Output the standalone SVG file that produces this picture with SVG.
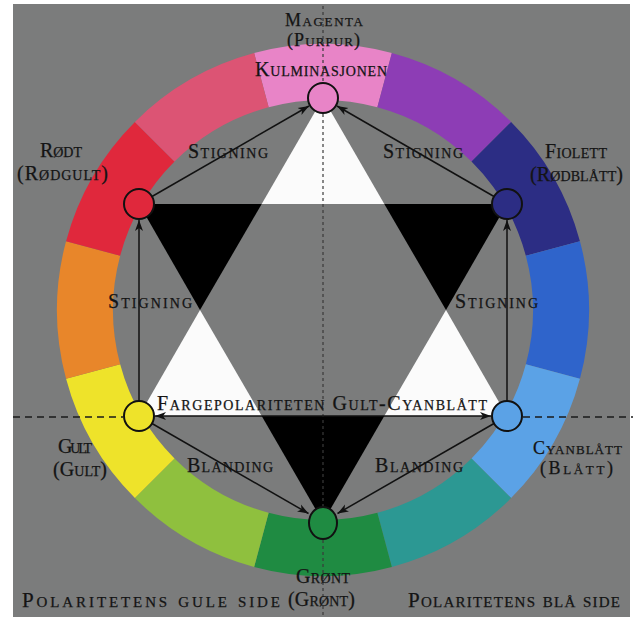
<svg xmlns="http://www.w3.org/2000/svg" width="633" height="619" viewBox="0 0 633 619">
  <defs>
    <marker id="arr" markerUnits="userSpaceOnUse" markerWidth="12" markerHeight="10" refX="11" refY="4" orient="auto-start-reverse" viewBox="0 0 12 8">
      <path d="M0,0 L11,4 L0,8 L3,4 Z" fill="#111"/>
    </marker>
    <style>
      .lbl { font-family: "Liberation Serif", "DejaVu Serif", serif; font-variant: small-caps; font-size: 20px; fill: #141414; stroke: #141414; stroke-width: 0.25; }
      .sm { font-size: 18px; }
      .big { font-size: 21px; }
      .node { stroke: #111; stroke-width: 2; }
      .conn { stroke: #111; stroke-width: 1.5; fill: none; }
      .seg { stroke: none; }
    </style>
  </defs>

  <rect x="0" y="0" width="633" height="619" fill="#ffffff"/>
  <rect x="13" y="4" width="617" height="613" fill="#7b7c7c"/>

  <g id="ring">
    <path class="seg" fill="#e884c7" d="M254.15,53.06 A266,266 0 0 1 391.85,53.06 L377.35,107.16 A210,210 0 0 0 268.65,107.16 Z"/>
    <path class="seg" fill="#8d3db5" d="M391.85,53.06 A266,266 0 0 1 511.09,121.91 L471.49,161.51 A210,210 0 0 0 377.35,107.16 Z"/>
    <path class="seg" fill="#2c2d84" d="M511.09,121.91 A266,266 0 0 1 579.94,241.15 L525.84,255.65 A210,210 0 0 0 471.49,161.51 Z"/>
    <path class="seg" fill="#2f64cb" d="M579.94,241.15 A266,266 0 0 1 579.94,378.85 L525.84,364.35 A210,210 0 0 0 525.84,255.65 Z"/>
    <path class="seg" fill="#5ba2e6" d="M579.94,378.85 A266,266 0 0 1 511.09,498.09 L471.49,458.49 A210,210 0 0 0 525.84,364.35 Z"/>
    <path class="seg" fill="#2c9893" d="M511.09,498.09 A266,266 0 0 1 391.85,566.94 L377.35,512.84 A210,210 0 0 0 471.49,458.49 Z"/>
    <path class="seg" fill="#1f8b42" d="M391.85,566.94 A266,266 0 0 1 254.15,566.94 L268.65,512.84 A210,210 0 0 0 377.35,512.84 Z"/>
    <path class="seg" fill="#8fc03e" d="M254.15,566.94 A266,266 0 0 1 134.91,498.09 L174.51,458.49 A210,210 0 0 0 268.65,512.84 Z"/>
    <path class="seg" fill="#eee32a" d="M134.91,498.09 A266,266 0 0 1 66.06,378.85 L120.16,364.35 A210,210 0 0 0 174.51,458.49 Z"/>
    <path class="seg" fill="#e8862a" d="M66.06,378.85 A266,266 0 0 1 66.06,241.15 L120.16,255.65 A210,210 0 0 0 120.16,364.35 Z"/>
    <path class="seg" fill="#e0283c" d="M66.06,241.15 A266,266 0 0 1 134.91,121.91 L174.51,161.51 A210,210 0 0 0 120.16,255.65 Z"/>
    <path class="seg" fill="#dc5474" d="M134.91,121.91 A266,266 0 0 1 254.15,53.06 L268.65,107.16 A210,210 0 0 0 174.51,161.51 Z"/>
  </g>

  <g id="hexagram">
    <polygon fill="#fbfbfb" points="323,98 261.7,204 384.3,204"/>
    <polygon fill="#fbfbfb" points="200,310 139,416 261.7,416"/>
    <polygon fill="#fbfbfb" points="446,310 384.3,416 507,416"/>
    <polygon fill="#000000" points="139,204 261.7,204 200,310"/>
    <polygon fill="#000000" points="384.3,204 507,204 446,310"/>
    <polygon fill="#000000" points="261.7,416 384.3,416 323,522"/>
  </g>

  <g id="axes">
    <line x1="323" y1="6" x2="323" y2="617" stroke="#3a3a3a" stroke-width="1.2" stroke-dasharray="3 3"/>
    <line x1="13" y1="417" x2="123" y2="417" stroke="#1a1a1a" stroke-width="1.5" stroke-dasharray="7 5"/>
    <line x1="523" y1="417" x2="633" y2="417" stroke="#1a1a1a" stroke-width="1.5" stroke-dasharray="7 5"/>
  </g>

  <g id="connectors">
    <line class="conn" x1="152" y1="196.5" x2="309" y2="106" marker-end="url(#arr)"/>
    <line class="conn" x1="494" y1="196.5" x2="337" y2="106" marker-end="url(#arr)"/>
    <line class="conn" x1="139" y1="401" x2="139" y2="220" marker-end="url(#arr)"/>
    <line class="conn" x1="507" y1="401" x2="507" y2="220" marker-end="url(#arr)"/>
    <line class="conn" x1="155" y1="416" x2="491" y2="416" marker-start="url(#arr)" marker-end="url(#arr)"/>
    <line class="conn" x1="152" y1="423.5" x2="308.5" y2="513.5" marker-end="url(#arr)"/>
    <line class="conn" x1="494" y1="423.5" x2="337.5" y2="513.5" marker-end="url(#arr)"/>
  </g>

  <g id="node-magenta">
    <circle class="node" cx="323" cy="98" r="15" fill="#e884c7"/>
    <text class="lbl sm" x="285" y="26" textLength="78" lengthAdjust="spacing">Magenta</text>
    <text class="lbl sm" x="287" y="46" textLength="73" lengthAdjust="spacing">(Purpur)</text>
    <text class="lbl" x="255" y="76" textLength="132" lengthAdjust="spacing">Kulminasjonen</text>
  </g>

  <g id="node-rodt">
    <circle class="node" cx="139" cy="204" r="15" fill="#e0283c"/>
    <text class="lbl" x="40" y="157" textLength="42" lengthAdjust="spacing">Rødt</text>
    <text class="lbl" x="17" y="180" textLength="91" lengthAdjust="spacing">(Rødgult)</text>
  </g>

  <g id="node-fiolett">
    <circle class="node" cx="507" cy="204" r="15" fill="#2c2d84"/>
    <text class="lbl" x="545" y="158" textLength="62" lengthAdjust="spacing">Fiolett</text>
    <text class="lbl" x="530" y="181" textLength="93" lengthAdjust="spacing">(Rødblått)</text>
  </g>

  <g id="node-gult">
    <circle class="node" cx="139" cy="416" r="15" fill="#eee32a"/>
    <text class="lbl" x="58" y="453" textLength="34" lengthAdjust="spacing">Gult</text>
    <text class="lbl" x="53" y="476" textLength="54" lengthAdjust="spacing">(Gult)</text>
  </g>

  <g id="node-cyanblatt">
    <circle class="node" cx="507" cy="416" r="15" fill="#5ba2e6"/>
    <text class="lbl sm" x="533" y="454" textLength="89" lengthAdjust="spacing">Cyanblått</text>
    <text class="lbl sm" x="540" y="474" textLength="73" lengthAdjust="spacing">(Blått)</text>
  </g>

  <g id="node-gront">
    <ellipse class="node" cx="323" cy="523" rx="14" ry="16" fill="#1f8b42"/>
    <text class="lbl" x="296" y="583" textLength="54" lengthAdjust="spacing">Grønt</text>
    <text class="lbl" x="288" y="606" textLength="67" lengthAdjust="spacing">(Grønt)</text>
  </g>

  <g id="labels">
    <text class="lbl" x="188" y="158" textLength="80" lengthAdjust="spacing">Stigning</text>
    <text class="lbl" x="383" y="158" textLength="80" lengthAdjust="spacing">Stigning</text>
    <text class="lbl" x="108" y="308" textLength="84" lengthAdjust="spacing">Stigning</text>
    <text class="lbl" x="455" y="308" textLength="83" lengthAdjust="spacing">Stigning</text>
    <text class="lbl" x="157" y="410" textLength="330" lengthAdjust="spacing">Fargepolariteten Gult-Cyanblått</text>
    <text class="lbl" x="187" y="472" textLength="86" lengthAdjust="spacing">Blanding</text>
    <text class="lbl" x="375" y="472" textLength="88" lengthAdjust="spacing">Blanding</text>
    <text class="lbl big" x="22" y="607" textLength="258" lengthAdjust="spacing">Polaritetens gule side</text>
    <text class="lbl big" x="408" y="607" textLength="212" lengthAdjust="spacing">Polaritetens blå side</text>
  </g>
</svg>
